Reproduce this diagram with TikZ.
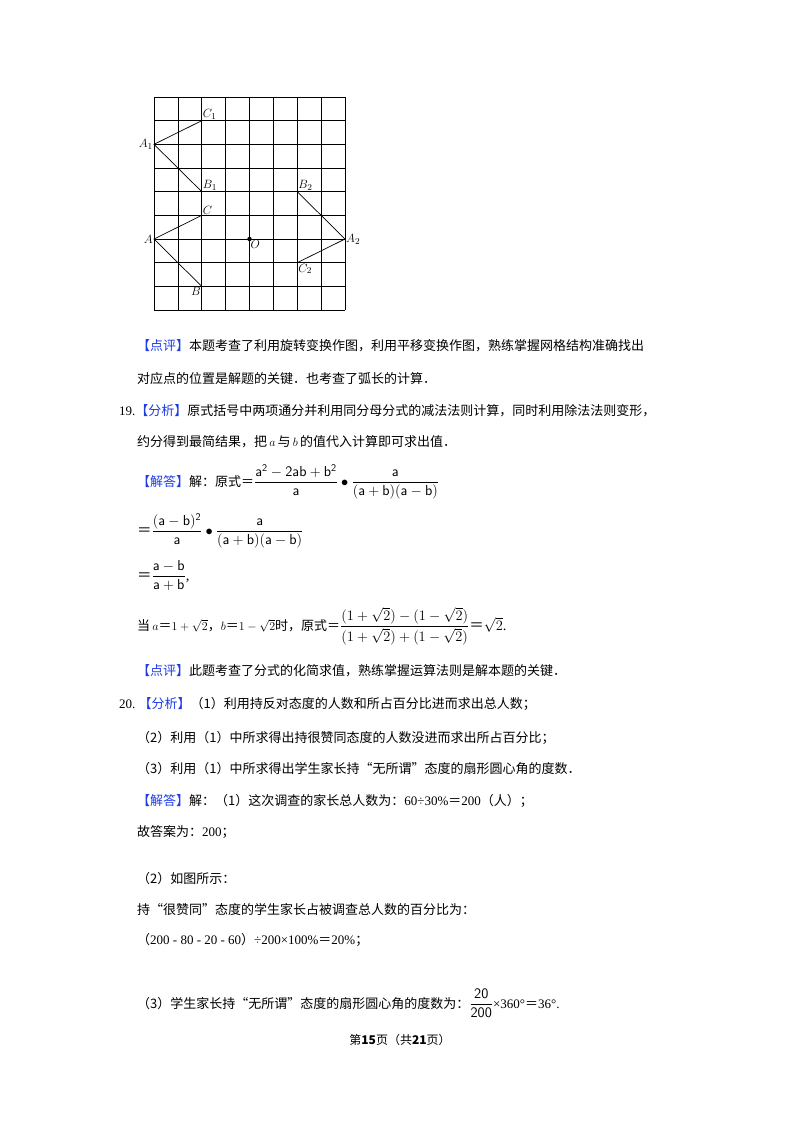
\documentclass[tikz,border=0pt]{standalone}
\usepackage{amsmath}
\usepackage{fontspec}
\setmainfont{Liberation Serif}
\newfontfamily\cjk{Noto Sans CJK SC}
\newcommand{\cz}[1]{{\cjk #1}}
\definecolor{hdblue}{RGB}{30,60,230}
\begin{document}
\begin{tikzpicture}[x=1pt,y=-1pt,
  txt/.style={anchor=base west,inner sep=0pt,font=\fontsize{13}{15}\selectfont},
  mtxt/.style={anchor=base west,inner sep=0pt,font=\fontsize{14.5}{16}\selectfont},
  lbl/.style={inner sep=1pt,font=\fontsize{13}{14}\selectfont\itshape},
  gridln/.style={line width=0.7pt},
  tri/.style={line width=0.7pt}]
\useasboundingbox (0,0) rectangle (800,1132);
\fill[white] (0,0) rectangle (800,1132);
% grid
\foreach \i in {0,...,8} \draw[gridln] (154+23.875*\i,97) -- (154+23.875*\i,310);
\foreach \j in {0,...,9} \draw[gridln] (154,97+23.67*\j) -- (345,97+23.67*\j);
\begin{scope}[shift={(154,97)},x=23.875pt,y=-23.67pt]
\coordinate (C1) at (2,1); \coordinate (A1) at (0,2); \coordinate (B1) at (2,4);
\coordinate (C) at (2,5); \coordinate (A) at (0,6); \coordinate (B) at (2,8);
\coordinate (O) at (4,6); \coordinate (B2) at (6,4); \coordinate (A2) at (8,6); \coordinate (C2) at (6,7);
\draw[tri] (C1) -- (A1) -- (B1);
\draw[tri] (C) -- (A) -- (B);
\draw[tri] (B2) -- (A2) -- (C2);
\fill (O) circle (2.2pt);
\node[lbl,anchor=south west] (lC1) at (C1) {$C_1$};
\node[lbl,anchor=east] (lA1) at (A1) {$A_1$};
\node[lbl,anchor=south west] (lB1) at (B1) {$B_1$};
\node[lbl,anchor=south west] (lC) at (C) {$C$};
\node[lbl,anchor=east] (lA) at (A) {$A$};
\node[lbl,anchor=north east] (lB) at (B) {$B$};
\node[lbl,anchor=north west] (lO) at (O) {$O$};
\node[lbl,anchor=south west] (lB2) at (B2) {$B_2$};
\node[lbl,anchor=west] (lA2) at (A2) {$A_2$};
\node[lbl,anchor=north west] (lC2) at (C2) {$C_2$};
\end{scope}
% text
\node[txt] (t1) at (137,350) {\cz{\textcolor{hdblue}{【点评】}本题考查了利用旋转变换作图，利用平移变换作图，熟练掌握网格结构准确找出}};
\node[txt] (t2) at (137,383) {\cz{对应点的位置是解题的关键．也考查了弧长的计算．}};
\node[txt] (t3) at (119,415) {19.\cz{\textcolor{hdblue}{【分析】}原式括号中两项通分并利用同分母分式的减法法则计算，同时利用除法法则变形，}};
\node[txt] (t4) at (137,446) {\cz{约分得到最简结果，把}\,$a$\,\cz{与}\,$b$\,\cz{的值代入计算即可求出值．}};
\node[mtxt] (t5) at (137,486) {\fontsize{13}{15}\selectfont\cz{\textcolor{hdblue}{【解答】}解：原式＝}\fontsize{14.5}{16}\selectfont$\dfrac{\mathsf{a^{2}-2ab+b^{2}}}{\mathsf{a}}\bullet\dfrac{\mathsf{a}}{\mathsf{(a+b)(a-b)}}$};
\node[mtxt] (t6) at (137,535) {\cz{＝}$\dfrac{\mathsf{(a-b)^{2}}}{\mathsf{a}}\bullet\dfrac{\mathsf{a}}{\mathsf{(a+b)(a-b)}}$};
\node[mtxt] (t7) at (137,580) {\cz{＝}$\dfrac{\mathsf{a-b}}{\mathsf{a+b}}$,};
\node[mtxt] (t8) at (137,630) {\fontsize{13}{15}\selectfont\cz{当}\,$a$\cz{＝}$1+\sqrt{2}$\cz{，}$b$\cz{＝}$1-\sqrt{2}$\cz{时，原式＝}\fontsize{14.5}{16}\selectfont$\dfrac{(1+\sqrt{2})-(1-\sqrt{2})}{(1+\sqrt{2})+(1-\sqrt{2})}$\cz{＝}$\sqrt{2}$.};
\node[txt] (t9) at (137,675) {\cz{\textcolor{hdblue}{【点评】}此题考查了分式的化简求值，熟练掌握运算法则是解本题的关键．}};
\node[txt] (t10) at (119,708) {20.~\cz{\textcolor{hdblue}{【分析】}（1）利用持反对态度的人数和所占百分比进而求出总人数；}};
\node[txt] (t11) at (137,742) {\cz{（2）利用（1）中所求得出持很赞同态度的人数没进而求出所占百分比；}};
\node[txt] (t12) at (137,773) {\cz{（3）利用（1）中所求得出学生家长持“无所谓”态度的扇形圆心角的度数．}};
\node[txt] (t13) at (137,805) {\cz{\textcolor{hdblue}{【解答】}解：（1）这次调查的家长总人数为：}60÷30\%\cz{＝}200\cz{（人）；}};
\node[txt] (t14) at (137,836) {\cz{故答案为：}200\cz{；}};
\node[txt] (t15) at (137,883) {\cz{（2）如图所示：}};
\node[txt] (t16) at (137,914) {\cz{持“很赞同”态度的学生家长占被调查总人数的百分比为：}};
\node[txt] (t17) at (137,944) {\cz{（}200 - 80 - 20 - 60\cz{）}÷200×100\%\cz{＝}20\%\cz{；}};
\node[txt] (t18) at (137,1008) {\cz{（3）学生家长持“无所谓”态度的扇形圆心角的度数为：}{\fontsize{14.5}{16}\selectfont$\dfrac{\mathsf{20}}{\mathsf{200}}$}×360°\cz{＝}36°.};
\node[inner sep=0pt,font=\fontsize{12}{14}\selectfont] (ft) at (400,1040) {\cz{第\textbf{15}页（共\textbf{21}页）}};
\end{tikzpicture}
\end{document}
